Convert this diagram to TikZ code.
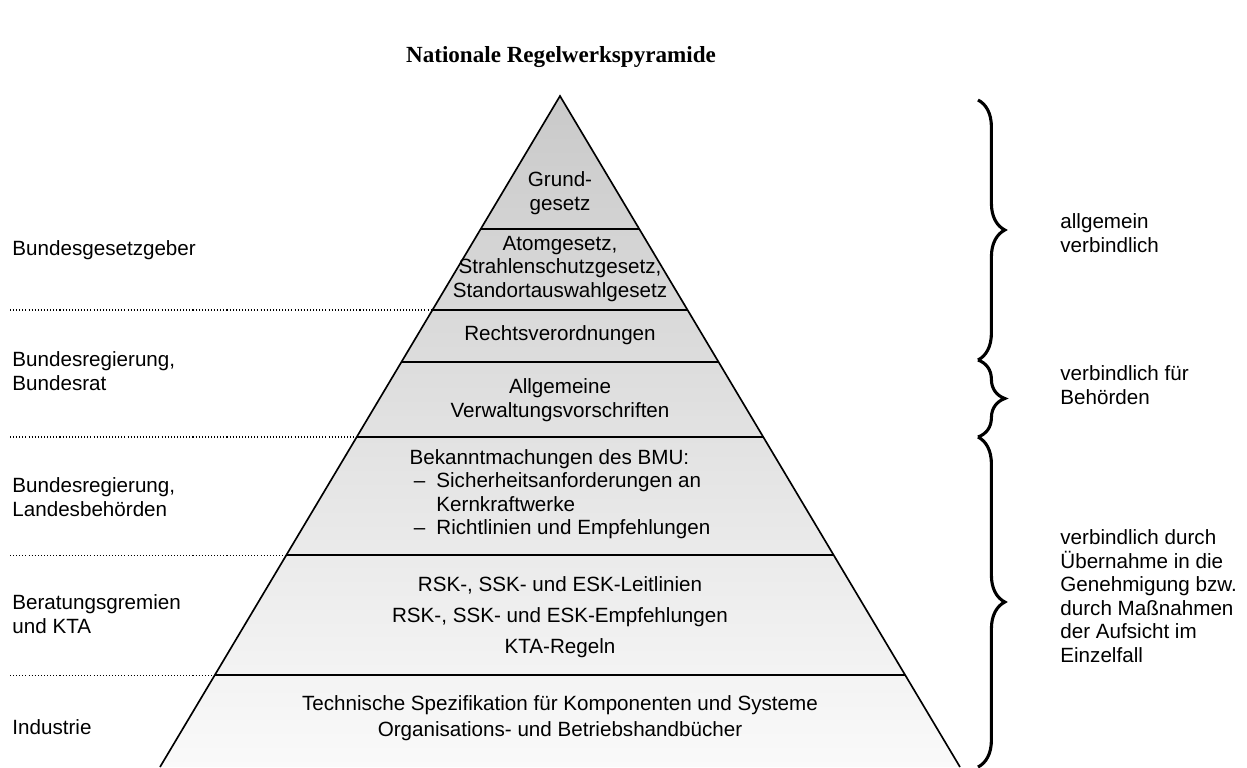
\documentclass[tikz,border=0pt]{standalone}
\usepackage{fontspec}
\setmainfont{Liberation Sans}
\newfontfamily\titlefont{Liberation Serif}
\usepackage{tikz}
\usetikzlibrary{calc}
\usetikzlibrary{positioning}
\usetikzlibrary{decorations.pathreplacing}
\tikzstyle{tier} = [align = center, inner sep = 0pt]
\tikzstyle{side} = [anchor = west, align = left, inner sep = 0pt]
\tikzstyle{sep} = [line width = 1pt]
\tikzstyle{dots} = [line width = 0.5pt, dash pattern = on 0.5pt off 1pt]
\tikzstyle{curly} = [decorate, decoration = {brace, amplitude = 13pt}, line width = 1.5pt]
\newcommand{\dash}{\makebox[13pt][l]{\hspace{2pt}--}}

\begin{document}
\begin{tikzpicture}[x = 0.485pt, y = -0.485pt, font = \fontsize{10}{11.4}\selectfont]
	\useasboundingbox (0,0) rectangle (1247,767);
	
	% Title
	\node[font = \titlefont\bfseries\fontsize{11.2}{13}\selectfont] (title) at (561,57) {Nationale Regelwerkspyramide};
	
	% Pyramid
	\coordinate (top) at (560,96);
	\coordinate (bl) at (160,767);
	\coordinate (br) at (960,767);
	\shade[top color = black!21, bottom color = black!2] (top) -- (bl) -- (br) -- cycle;
	\draw[line width = 0.8pt] (bl) -- (top) -- (br);
	
	% Band borders
	\foreach \t [count = \i] in {0.1982, 0.3189, 0.3964, 0.5082, 0.6841, 0.8629}{
		\coordinate (l\i) at ($(top)!\t!(bl)$);
		\coordinate (r\i) at ($(top)!\t!(br)$);
		\draw[sep] (l\i) -- (r\i);
	}
	
	% Dotted lines to the left
	\coordinate (margin) at (10,0);
	\foreach \i in {2,4,5,6}
		\draw[dots] (margin |- l\i) -- (l\i);
	
	% Texts in the pyramid
	\node[tier] (gg) at (560,193) {Grund-\\gesetz};
	\node[tier] (atg) at (560,269) {Atomgesetz,\\Strahlenschutzgesetz,\\Standortauswahlgesetz};
	\node[tier] (rvo) at (560,335) {Rechtsverordnungen};
	\node[tier] (avv) at (560,400) {Allgemeine\\Verwaltungsvorschriften};
	\node[tier, align = left] (bmu) at (560,494) {Bekanntmachungen des BMU:\\
		\dash Sicherheitsanforderungen an\\
		\hspace*{13pt}Kernkraftwerke\\
		\dash Richtlinien und Empfehlungen};
	\node[tier] (rsk) at (560,617) {RSK-, SSK- und ESK-Leitlinien\\[3.6pt]
		RSK-, SSK- und ESK-Empfehlungen\\[3.6pt]
		KTA-Regeln};
	\node[tier] (tech) at (560,718) {Technische Spezifikation f\"ur Komponenten und Systeme\\[1pt]
		Organisations- und Betriebshandb\"ucher};
	
	% Left labels
	\node[side] (lbund) at (12,250) {Bundesgesetzgeber};
	\node[side] (lrat) at (12,371) {Bundesregierung,\\Bundesrat};
	\node[side] (llaender) at (12,497) {Bundesregierung,\\Landesbeh\"orden};
	\node[side] (lgremien) at (12,614) {Beratungsgremien\\und KTA};
	\node[side] (lindustrie) at (12,727) {Industrie};
	
	% Braces on the right
	\coordinate (b0) at (978,100);
	\coordinate (b1) at (978,360);
	\coordinate (b2) at (978,437);
	\coordinate (b3) at (978,767);
	\draw[curly] (b0) -- (b1);
	\draw[curly] (b1) -- (b2);
	\draw[curly] (b2) -- (b3);
	
	\node[side] (rallg) at (1060,233) {allgemein\\verbindlich};
	\node[side] (rbeh) at (1060,385) {verbindlich f\"ur\\Beh\"orden};
	\node[side] (reinzel) at (1060,596) {verbindlich durch\\\"Ubernahme in die\\Genehmigung bzw.\\durch Ma\ss nahmen\\der Aufsicht im\\Einzelfall};
	
\end{tikzpicture}
\end{document}
